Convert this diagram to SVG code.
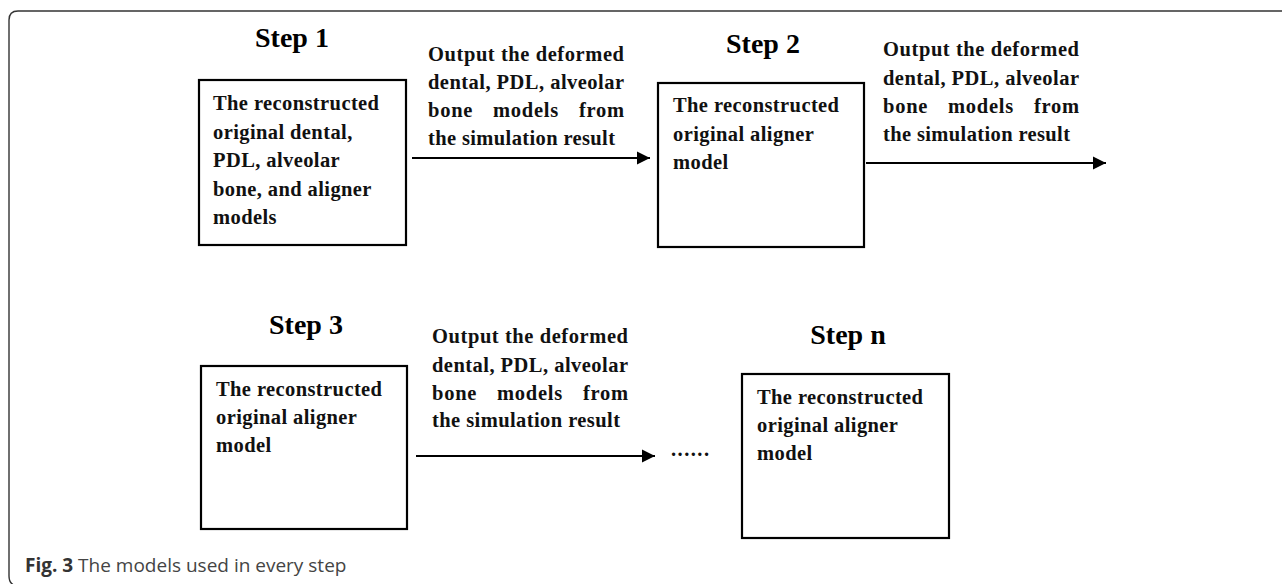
<svg xmlns="http://www.w3.org/2000/svg" width="1282" height="584" viewBox="0 0 1282 584">
<style>
.frame{fill:none;stroke:#333;stroke-width:1.4}
.box{fill:#fff;stroke:#000;stroke-width:2.2}
.step{font-family:"Liberation Serif",serif;font-weight:bold;font-size:28px;fill:#000}
.bt{font-family:"Liberation Serif",serif;font-weight:bold;font-size:20.5px;fill:#111;letter-spacing:0.4px}
.lt{font-family:"Liberation Serif",serif;font-weight:bold;font-size:20.5px;fill:#111}
.conn{stroke:#000;stroke-width:2.2;fill:none}
.cap{font-family:"Open Sans","Noto Sans",sans-serif;font-size:19px;fill:#444}
.capb{font-weight:bold;fill:#333}
</style>
<defs>
<marker id="ah" viewBox="0 0 10 10" refX="10" refY="5" markerWidth="6" markerHeight="6" markerUnits="strokeWidth" orient="auto">
<path d="M0,0 L10,5 L0,10 Z" fill="#000"/>
</marker>
</defs>
<rect width="1282" height="584" fill="#fff"/>
<path class="frame" d="M1282,11 H18 Q9,11 9,20 V576 Q9,584 16,586"/>

<g id="step1">
<text class="step" x="292" y="47" text-anchor="middle">Step 1</text>
<rect class="box" x="199" y="80" width="207" height="165"/>
<text class="bt" x="213" y="110">The reconstructed</text>
<text class="bt" x="213" y="139">original dental,</text>
<text class="bt" x="213" y="167">PDL, alveolar</text>
<text class="bt" x="213" y="196">bone, and aligner</text>
<text class="bt" x="213" y="224">models</text>
</g>

<g id="step2">
<text class="step" x="763" y="53" text-anchor="middle">Step 2</text>
<rect class="box" x="658" y="83" width="206" height="164"/>
<text class="bt" x="673" y="112">The reconstructed</text>
<text class="bt" x="673" y="141">original aligner</text>
<text class="bt" x="673" y="169">model</text>
</g>

<g id="step3">
<text class="step" x="306" y="334" text-anchor="middle">Step 3</text>
<rect class="box" x="201" y="366" width="206" height="163"/>
<text class="bt" x="216" y="396">The reconstructed</text>
<text class="bt" x="216" y="424">original aligner</text>
<text class="bt" x="216" y="452">model</text>
</g>

<g id="stepn">
<text class="step" x="848" y="344" text-anchor="middle">Step n</text>
<rect class="box" x="742" y="374" width="207" height="164"/>
<text class="bt" x="757" y="404">The reconstructed</text>
<text class="bt" x="757" y="432">original aligner</text>
<text class="bt" x="757" y="460">model</text>
</g>

<g id="connectors">
<line class="conn" x1="412" y1="158" x2="650" y2="158" marker-end="url(#ah)"/>
<line class="conn" x1="866" y1="163" x2="1106" y2="163" marker-end="url(#ah)"/>
<line class="conn" x1="416" y1="456" x2="655" y2="456" marker-end="url(#ah)"/>
</g>

<g id="labels">
<text class="lt" x="428" y="61" textLength="196" lengthAdjust="spacing">Output the deformed</text>
<text class="lt" x="428" y="89" textLength="196" lengthAdjust="spacing">dental, PDL, alveolar</text>
<text class="lt" x="428" y="117" textLength="196" lengthAdjust="spacing" word-spacing="14">bone models from</text>
<text class="lt" x="428" y="145" textLength="187" lengthAdjust="spacing">the simulation result</text>

<text class="lt" x="883" y="56" textLength="196" lengthAdjust="spacing">Output the deformed</text>
<text class="lt" x="883" y="85" textLength="196" lengthAdjust="spacing">dental, PDL, alveolar</text>
<text class="lt" x="883" y="113" textLength="196" lengthAdjust="spacing" word-spacing="14">bone models from</text>
<text class="lt" x="883" y="141" textLength="187" lengthAdjust="spacing">the simulation result</text>

<text class="lt" x="432" y="343" textLength="196" lengthAdjust="spacing">Output the deformed</text>
<text class="lt" x="432" y="372" textLength="196" lengthAdjust="spacing">dental, PDL, alveolar</text>
<text class="lt" x="432" y="400" textLength="196" lengthAdjust="spacing" word-spacing="14">bone models from</text>
<text class="lt" x="432" y="427" textLength="188" lengthAdjust="spacing">the simulation result</text>

<text class="lt" x="671" y="456" textLength="38" lengthAdjust="spacing">......</text>
</g>

<text class="cap" x="25" y="572"><tspan class="capb">Fig. 3</tspan> The models used in every step</text>
</svg>
